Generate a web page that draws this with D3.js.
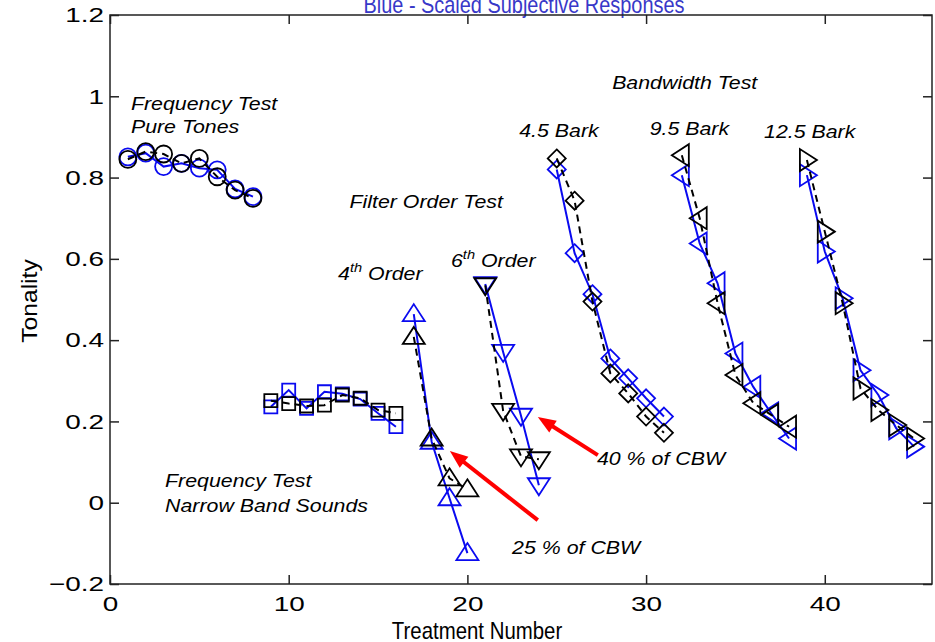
<!DOCTYPE html>
<html>
<head>
<meta charset="utf-8">
<script src="https://cdn.jsdelivr.net/npm/d3@7"></script>
<style>
  body { margin: 0; background: #fff; }
  svg { display: block; font-family: "Liberation Sans", Arial, Helvetica, sans-serif; }
</style>
</head>
<body>
<svg id="vis"></svg>
<script>
// treatment numbers and tonality values, black = raw, blue = scaled
var toneX = [1, 2, 3, 4, 5, 6, 7, 8];
var toneBlack = [0.845, 0.864, 0.858, 0.835, 0.847, 0.802, 0.769, 0.749];
var toneBlue = [0.851, 0.860, 0.827, 0.835, 0.823, 0.819, 0.772, 0.753];

var bandX = [9, 10, 11, 12, 13, 14, 15, 16];
var bandBlack = [0.251, 0.244, 0.238, 0.240, 0.265, 0.257, 0.228, 0.220];
var bandBlue = [0.236, 0.277, 0.232, 0.273, 0.268, 0.255, 0.220, 0.187];

var ord4X = [17, 18, 19, 20];
var ord4Black = [0.408, 0.158, 0.060, 0.033];
var ord4Blue = [0.464, 0.150, 0.011, -0.124];

var ord6X = [21, 22, 23, 24];
var ord6Black = [0.535, 0.226, 0.114, 0.107];
var ord6Blue = [0.538, 0.371, 0.214, 0.043];

var bw45X = [25, 26, 27, 28, 29, 30, 31];
var bw45Black = [0.847, 0.743, 0.495, 0.318, 0.269, 0.212, 0.172];
var bw45Blue = [0.820, 0.614, 0.513, 0.355, 0.306, 0.257, 0.212];

var bw95X = [32, 33, 34, 35, 36, 37, 38];
var bw95Black = [0.855, 0.700, 0.491, 0.314, 0.245, 0.216, 0.187];
var bw95Blue = [0.806, 0.638, 0.540, 0.367, 0.285, 0.220, 0.158];

var bw125X = [39, 40, 41, 42, 43, 44, 45];
var bw125Black = [0.843, 0.667, 0.491, 0.281, 0.228, 0.191, 0.158];
var bw125Blue = [0.806, 0.618, 0.503, 0.326, 0.265, 0.183, 0.138];

var xTicks = [0, 10, 20, 30, 40];
var yTicks = [-0.2, 0, 0.2, 0.4, 0.6, 0.8, 1, 1.2];

var titleText = "Blue - Scaled Subjective Responses";
var xLabel = "Treatment Number";
var yLabel = "Tonality";

// annotation texts, placed in data units
var notes = [
    {t: "Frequency Test", x: 1.17, y: 0.966},
    {t: "Pure Tones", x: 1.17, y: 0.910},
    {t: "Bandwidth Test", x: 28.1, y: 1.018},
    {t: "4.5 Bark", x: 22.9, y: 0.900},
    {t: "9.5 Bark", x: 30.2, y: 0.905},
    {t: "12.5 Bark", x: 36.6, y: 0.897},
    {t: "Filter Order Test", x: 13.4, y: 0.725},
    {t: "Frequency Test", x: 3.08, y: 0.038},
    {t: "Narrow Band Sounds", x: 3.08, y: -0.024},
    {t: "40 % of CBW", x: 27.25, y: 0.093},
    {t: "25 % of CBW", x: 22.5, y: -0.126}
];
var orderNotes = [
    {n: "4", x: 12.76, y: 0.549},
    {n: "6", x: 19.08, y: 0.581}
];
var arrows = [
    {x1: 27.3, y1: 0.117, x2: 23.94, y2: 0.211},
    {x1: 23.94, y1: -0.043, x2: 19.02, y2: 0.127}
];

var W = 935, H = 642;
var margin = {left: 110, right: 932, top: 15, bottom: 584};

var svg = d3.select("#vis").attr("width", W).attr("height", H);

var x = d3.scaleLinear().domain([0, 46]).range([margin.left, margin.right]);
var y = d3.scaleLinear().domain([-0.2, 1.2]).range([margin.bottom, margin.top]);

var BLUE = "#0a0af0";
var TS = 1.33;   // tick text is drawn wide in the original
var NS = 1.22;   // note text stretch

// title, mostly cut off at the top edge
svg.append("text")
    .attr("transform", "translate(524,13) scale(0.83,1)")
    .attr("text-anchor", "middle")
    .attr("font-size", 24)
    .attr("fill", "#3838c8")
    .text(titleText);

// axes box and ticks
svg.append("rect")
    .attr("x", margin.left).attr("y", margin.top)
    .attr("width", margin.right - margin.left).attr("height", margin.bottom - margin.top)
    .attr("fill", "none").attr("stroke", "#222").attr("stroke-width", 1.5);

var xb = svg.append("g").attr("transform", "translate(0," + margin.bottom + ")")
    .call(d3.axisBottom(x).tickValues(xTicks).tickSizeInner(-9).tickSizeOuter(0).tickPadding(12));
var xt = svg.append("g").attr("transform", "translate(0," + margin.top + ")")
    .call(d3.axisTop(x).tickValues(xTicks).tickSizeInner(-9).tickSizeOuter(0).tickFormat(""));
var yl = svg.append("g").attr("transform", "translate(" + margin.left + ",0)")
    .call(d3.axisLeft(y).tickValues(yTicks).tickSizeInner(-9).tickSizeOuter(0).tickPadding(6)
        .tickFormat(function(d) {
            var v = Math.round(d * 10) / 10;
            return v < 0 ? "\u2212" + Math.abs(v) : String(v);
        }));
var yr = svg.append("g").attr("transform", "translate(" + margin.right + ",0)")
    .call(d3.axisRight(y).tickValues(yTicks).tickSizeInner(-9).tickSizeOuter(0).tickFormat(""));

[xb, xt, yl, yr].forEach(function(g) {
    g.select(".domain").remove();
    g.selectAll(".tick line").attr("stroke", "#222").attr("stroke-width", 1.5);
});
xb.selectAll("text")
    .attr("font-size", 21).attr("fill", "#000")
    .attr("font-family", "'Liberation Sans', Arial, sans-serif")
    .attr("transform", "scale(" + TS + ",1)");
yl.selectAll("text")
    .attr("font-size", 21).attr("fill", "#000")
    .attr("font-family", "'Liberation Sans', Arial, sans-serif")
    .attr("x", -6 / TS)
    .attr("transform", "scale(" + TS + ",1)");

// axis titles
svg.append("text")
    .attr("transform", "translate(477,639) scale(0.85,1)")
    .attr("text-anchor", "middle").attr("font-size", 24)
    .text(xLabel);
svg.append("text")
    .attr("transform", "translate(37,301) rotate(-90) scale(1.12,1)")
    .attr("text-anchor", "middle").attr("font-size", 22)
    .text(yLabel);

// marker shapes, in pixels around the data point
var shapes = {
    circle: function() { return d3.symbol().type(d3.symbolCircle).size(Math.PI * 8.5 * 8.5)(); },
    square: function() { return "M-6.5,-6.5H6.5V6.5H-6.5Z"; },
    up: function() { return "M0,-10L11,7L-11,7Z"; },
    down: function() { return "M0,10L11,-7L-11,-7Z"; },
    left: function() { return "M-10,0L7,-11L7,11Z"; },
    right: function() { return "M10,0L-7,-11L-7,11Z"; },
    diamond: function() { return "M0,-9L9,0L0,9L-9,0Z"; }
};

var groups = [
    {xs: toneX, black: toneBlack, blue: toneBlue, shape: "circle"},
    {xs: bandX, black: bandBlack, blue: bandBlue, shape: "square"},
    {xs: ord4X, black: ord4Black, blue: ord4Blue, shape: "up"},
    {xs: ord6X, black: ord6Black, blue: ord6Blue, shape: "down"},
    {xs: bw45X, black: bw45Black, blue: bw45Blue, shape: "diamond"},
    {xs: bw95X, black: bw95Black, blue: bw95Blue, shape: "left"},
    {xs: bw125X, black: bw125Black, blue: bw125Blue, shape: "right"}
];

var line = d3.line().x(function(d) { return x(d[0]); }).y(function(d) { return y(d[1]); });

function drawSeries(g, xs, ys, color, dashed, shape) {
    var pts = xs.map(function(v, i) { return [v, ys[i]]; });
    g.append("path")
        .datum(pts)
        .attr("d", line)
        .attr("fill", "none")
        .attr("stroke", color)
        .attr("stroke-width", 2)
        .attr("stroke-dasharray", dashed ? "7,5" : null);
    g.selectAll(null)
        .data(pts)
        .enter().append("path")
        .attr("transform", function(d) { return "translate(" + x(d[0]) + "," + y(d[1]) + ")"; })
        .attr("d", shapes[shape]())
        .attr("fill", "none")
        .attr("stroke", color)
        .attr("stroke-width", 1.8);
}

var plot = svg.append("g");
groups.forEach(function(gr) {
    drawSeries(plot, gr.xs, gr.blue, BLUE, false, gr.shape);
});
groups.forEach(function(gr) {
    drawSeries(plot, gr.xs, gr.black, "#000", true, gr.shape);
});

// red arrows
arrows.forEach(function(a) {
    var x1 = x(a.x1), y1 = y(a.y1), x2 = x(a.x2), y2 = y(a.y2);
    var dx = x2 - x1, dy = y2 - y1, len = Math.sqrt(dx * dx + dy * dy);
    var ux = dx / len, uy = dy / len;
    var hl = 18, hw = 7;
    var bx = x2 - ux * hl, by = y2 - uy * hl;
    svg.append("line")
        .attr("x1", x1).attr("y1", y1).attr("x2", bx + ux * 2).attr("y2", by + uy * 2)
        .attr("stroke", "#ff0000").attr("stroke-width", 4);
    svg.append("path")
        .attr("d", "M" + x2 + "," + y2 +
            "L" + (bx - uy * hw) + "," + (by + ux * hw) +
            "L" + (bx + uy * hw) + "," + (by - ux * hw) + "Z")
        .attr("fill", "#ff0000");
});

// annotations
var noteG = svg.append("g").attr("font-style", "italic").attr("font-size", 17.5);
notes.forEach(function(n) {
    noteG.append("text")
        .attr("transform", "translate(" + x(n.x) + "," + y(n.y) + ") scale(" + NS + ",1)")
        .text(n.t);
});
orderNotes.forEach(function(n) {
    var t = noteG.append("text")
        .attr("transform", "translate(" + x(n.x) + "," + y(n.y) + ") scale(" + NS + ",1)");
    t.append("tspan").text(n.n);
    t.append("tspan").attr("font-size", 12).attr("dy", -8).text("th");
    t.append("tspan").attr("dy", 8).text(" Order");
});
</script>
</body>
</html>
